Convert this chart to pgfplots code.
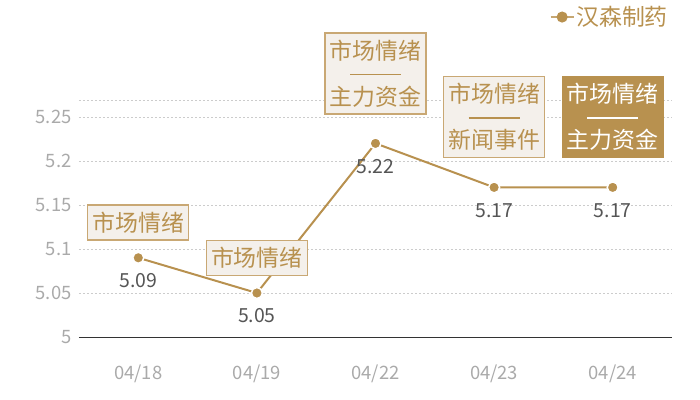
\documentclass[border=0pt]{standalone}
\usepackage{fontspec}
\setmainfont{Noto Sans CJK SC}
\usepackage{pgfplots}
\pgfplotsset{compat=1.18}

\definecolor{gold}{HTML}{B8914F}
\definecolor{boxfill}{HTML}{F4F0EB}
\definecolor{boxline}{HTML}{C9A874}
\definecolor{ticklab}{HTML}{AAAAAA}
\definecolor{vallab}{HTML}{555555}
\definecolor{gridc}{HTML}{CCCCCC}
\definecolor{axisc}{HTML}{333333}

\newcommand{\sep}{\rule[7bp]{51bp}{1.5bp}}

\begin{document}
\begin{tikzpicture}[
  note/.style={draw=boxline, line width=1.2bp, fill=boxfill, text=gold,
    inner sep=0pt, minimum width=101bp, minimum height=35bp, align=center,
    font=\fontsize{23}{23}\selectfont},
  note2/.style={note, minimum height=81bp},
  notedark/.style={note2, fill=gold, draw=gold, text=white}
]
\path[use as bounding box] (-79bp,-63bp) rectangle (621bp,337bp);
\begin{axis}[
  scale only axis, width=593bp, height=237bp,
  xmin=-0.5, xmax=4.5, ymin=5, ymax=5.2693,
  xtick={0,...,4}, xticklabels={04/18,04/19,04/22,04/23,04/24},
  ytick={5,5.05,5.1,5.15,5.2,5.25},
  extra y ticks={5.2693}, extra y tick labels={},
  extra y tick style={grid=major},
  axis x line*=bottom, axis y line*=left,
  x axis line style={-, draw=axisc, line width=1bp},
  y axis line style={draw=none},
  major tick length=0pt,
  ymajorgrids,
  grid style={gridc, line width=0.8bp, dash pattern=on 2bp off 2bp},
  /pgf/number format/assume math mode=true,
  tick label style={text=ticklab, font=\fontsize{18.5}{18.5}\selectfont},
  xticklabel style={yshift=-24bp},
  yticklabel style={xshift=-4bp},
  clip=false,
  legend style={at={(axis description cs:0.794,1.35)}, anchor=west,
    draw=none, fill=none, inner sep=0pt, text=gold,
    font=\fontsize{23}{23}\selectfont},
  legend image code/.code={
    \draw[gold!80, line width=1.2bp] (0bp,0bp) -- (23bp,0bp);
    \fill[gold] (11.5bp,0bp) circle (4.5bp);},
]
\addplot[gold, line width=2bp, mark=*, mark size=5.5bp,
  mark options={fill=gold, draw=white, line width=1.5bp},
  point meta=explicit symbolic, nodes near coords,
  nodes near coords style={anchor=center, yshift=-23bp, text=vallab,
    font=\fontsize{19.5}{19.5}\selectfont}]
  coordinates {(0,5.09) [5.09] (1,5.05) [5.05] (2,5.22) [5.22]
               (3,5.17) [5.17] (4,5.17) [5.17]};
\addlegendentry{汉森制药}

\node[note] at (axis cs:0,5.1301) {市场情绪};
\node[note] at (axis cs:1,5.0898) {市场情绪};
\node[note2] at (axis cs:2,5.2994) {市场情绪\\\sep\\主力资金};
\node[note2] at (axis cs:3,5.25) {市场情绪\\\sep\\新闻事件};
\node[notedark] at (axis cs:4,5.25) {市场情绪\\\sep\\主力资金};
\end{axis}
\end{tikzpicture}
\end{document}
